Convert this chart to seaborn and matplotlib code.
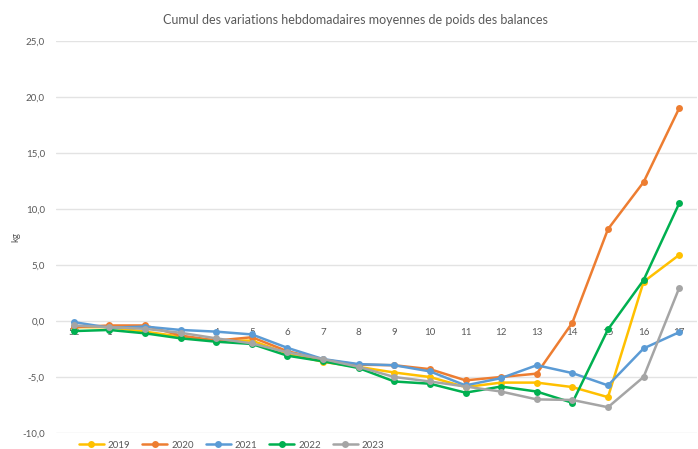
import pandas as pd
import seaborn as sns
from matplotlib import pyplot as plt

weeks = ["52", "1", "2", "3", "4", "5", "6", "7", "8", "9", "10",
         "11", "12", "13", "14", "15", "16", "17"]

v2019 = [-0.55, -0.55, -0.95, -1.4, -1.75, -1.75, -2.9, -3.65, -4.1, -4.6,
         -5.0, -5.9, -5.5, -5.5, -5.9, -6.8, 3.5, 5.9]
v2020 = [-0.55, -0.4, -0.4, -1.3, -1.75, -1.45, -2.7, -3.45, -3.9, -3.95,
         -4.3, -5.3, -5.0, -4.7, -0.15, 8.2, 12.4, 19.0]
v2021 = [-0.1, -0.6, -0.5, -0.8, -0.95, -1.2, -2.4, -3.4, -3.85, -3.95,
         -4.5, -5.75, -5.1, -3.95, -4.65, -5.75, -2.45, -1.0]
v2022 = [-0.9, -0.8, -1.1, -1.55, -1.85, -2.05, -3.1, -3.6, -4.2, -5.4,
         -5.6, -6.4, -5.85, -6.3, -7.3, -0.75, 3.65, 10.5]
v2023 = [-0.4, -0.55, -0.7, -1.05, -1.55, -2.0, -2.8, -3.4, -4.1, -5.0,
         -5.4, -5.85, -6.3, -7.0, -7.05, -7.7, -5.0, 2.95]

years = ["2019", "2020", "2021", "2022", "2023"]
colors = ["#FFC000", "#ED7D31", "#5B9BD5", "#00B050", "#A5A5A5"]

yticks = [-10, -5, 0, 5, 10, 15, 20, 25]
ytick_labels = ["-10,0", "-5,0", "0,0", "5,0", "10,0", "15,0", "20,0", "25,0"]


def get_data_frame():
    rows = []
    for year, vals in zip(years, [v2019, v2020, v2021, v2022, v2023]):
        for i, v in enumerate(vals):
            rows.append({"pos": i, "val": v, "year": year})
    return pd.DataFrame(rows)


def draw():
    df = get_data_frame()
    sns.set_style("white")
    plt.rcParams["font.family"] = ["Lato", "DejaVu Sans"]
    text_col = "#595959"

    fig = plt.figure(figsize=(6.98, 4.49), dpi=100)
    ax = fig.add_axes([56 / 698, 1 - 433 / 449, 641 / 698, 392 / 449])

    sns.lineplot(data=df, x="pos", y="val", hue="year", palette=colors,
                 marker="o", markersize=5, markeredgewidth=0, linewidth=1.8,
                 sort=False, ax=ax)

    ax.set_xlim(-0.5, 17.5)
    ax.set_ylim(-10, 25)
    ax.set_yticks(yticks)
    ax.set_yticklabels(ytick_labels)
    ax.set_xticks(range(len(weeks)))
    ax.set_xticklabels(weeks)
    ax.grid(axis="y", color="#E3E3E3", linewidth=1)
    ax.set_axisbelow(True)
    for s in ["top", "right", "left"]:
        ax.spines[s].set_visible(False)
    ax.spines["bottom"].set_position(("data", 0))
    ax.spines["bottom"].set_visible(False)
    ax.tick_params(axis="x", length=0, pad=5, labelsize=7, labelcolor=text_col)
    ax.tick_params(axis="y", length=0, pad=8, labelsize=7, labelcolor=text_col)
    ax.set_xlabel("")
    ax.set_ylabel("kg", fontsize=7, color=text_col)
    ax.yaxis.set_label_coords(-36 / 641, 0.5)

    fig.text(355 / 698, 1 - 20 / 449, "Cumul des variations hebdomadaires moyennes de poids des balances",
             ha="center", va="center", fontsize=9, color=text_col)

    handles, labels = ax.get_legend_handles_labels()
    ax.legend(handles, labels, ncol=5, loc="center left", frameon=False,
              bbox_to_anchor=(70 / 698, 1 - 445 / 449), bbox_transform=fig.transFigure,
              fontsize=7, labelcolor=text_col, handlelength=2.6, columnspacing=1.2,
              handletextpad=0.4)

    fig.savefig("out.png", dpi=100)


draw()
